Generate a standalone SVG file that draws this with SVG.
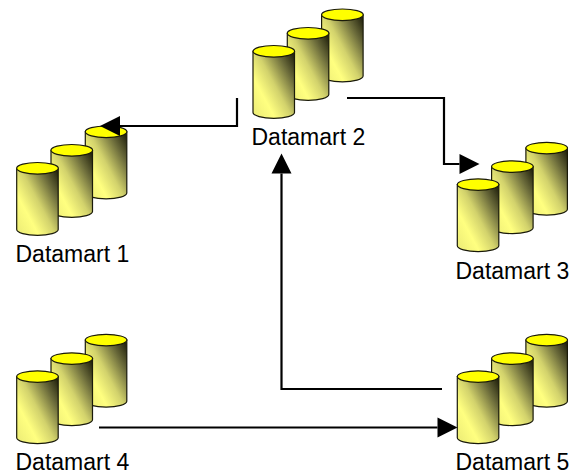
<svg xmlns="http://www.w3.org/2000/svg" width="577" height="474" viewBox="0 0 577 474">
<style>
.body{fill:url(#g);stroke:#1a1a0a;stroke-width:1.2}
.cap{fill:#ffff00;stroke:#1a1a0a;stroke-width:1.2}
.label{font-family:"Liberation Sans",Arial,sans-serif;font-size:23px;fill:#000}
.link{fill:none;stroke:#000;stroke-width:2.2}
</style>
<defs>
<linearGradient id="g" x1="1" y1="0.08" x2="0" y2="0.95">
<stop offset="0" stop-color="#25250f"/>
<stop offset="0.2" stop-color="#6a6a3a"/>
<stop offset="0.48" stop-color="#d2d26c"/>
<stop offset="0.72" stop-color="#ffff80"/>
<stop offset="1" stop-color="#ecec76"/>
</linearGradient>
<marker id="a" markerUnits="userSpaceOnUse" markerWidth="20" markerHeight="20" refX="0" refY="10" orient="auto" overflow="visible">
<path d="M0 0L20 10L0 20Z" fill="#000"/>
</marker>
<g id="c">
<path class="body" d="M0 5.8V67C0 70.2 9.3 72.8 20.8 72.8S41.5 70.2 41.5 67V5.8Z"/>
<ellipse class="cap" cx="20.8" cy="5.8" rx="20.8" ry="5.8"/>
</g>
<g id="stack">
<use href="#c" x="68.6" y="0"/>
<use href="#c" x="34.3" y="18.5"/>
<use href="#c" x="0" y="36.5"/>
</g>
</defs>
<g id="datamart1"><use href="#stack" x="16.7" y="126"/><text class="label" x="15.5" y="262">Datamart 1</text></g>
<g id="datamart2"><use href="#stack" x="253" y="9"/><text class="label" x="251.5" y="144.5">Datamart 2</text></g>
<g id="datamart3"><use href="#stack" x="457.3" y="142.3"/><text class="label" x="455.5" y="278.5">Datamart 3</text></g>
<g id="datamart4"><use href="#stack" x="16.7" y="334.3"/><text class="label" x="15.5" y="470">Datamart 4</text></g>
<g id="datamart5"><use href="#stack" x="457.3" y="334.3"/><text class="label" x="455.5" y="470">Datamart 5</text></g>
<g id="connectors">
<path class="link" marker-end="url(#a)" d="M237 98V126H120"/>
<path class="link" marker-end="url(#a)" d="M347 98H444V164H459.5"/>
<path class="link" marker-end="url(#a)" d="M442 389H281.5V173.5"/>
<path class="link" marker-end="url(#a)" d="M99 427.5H437.5"/>
</g>
</svg>
